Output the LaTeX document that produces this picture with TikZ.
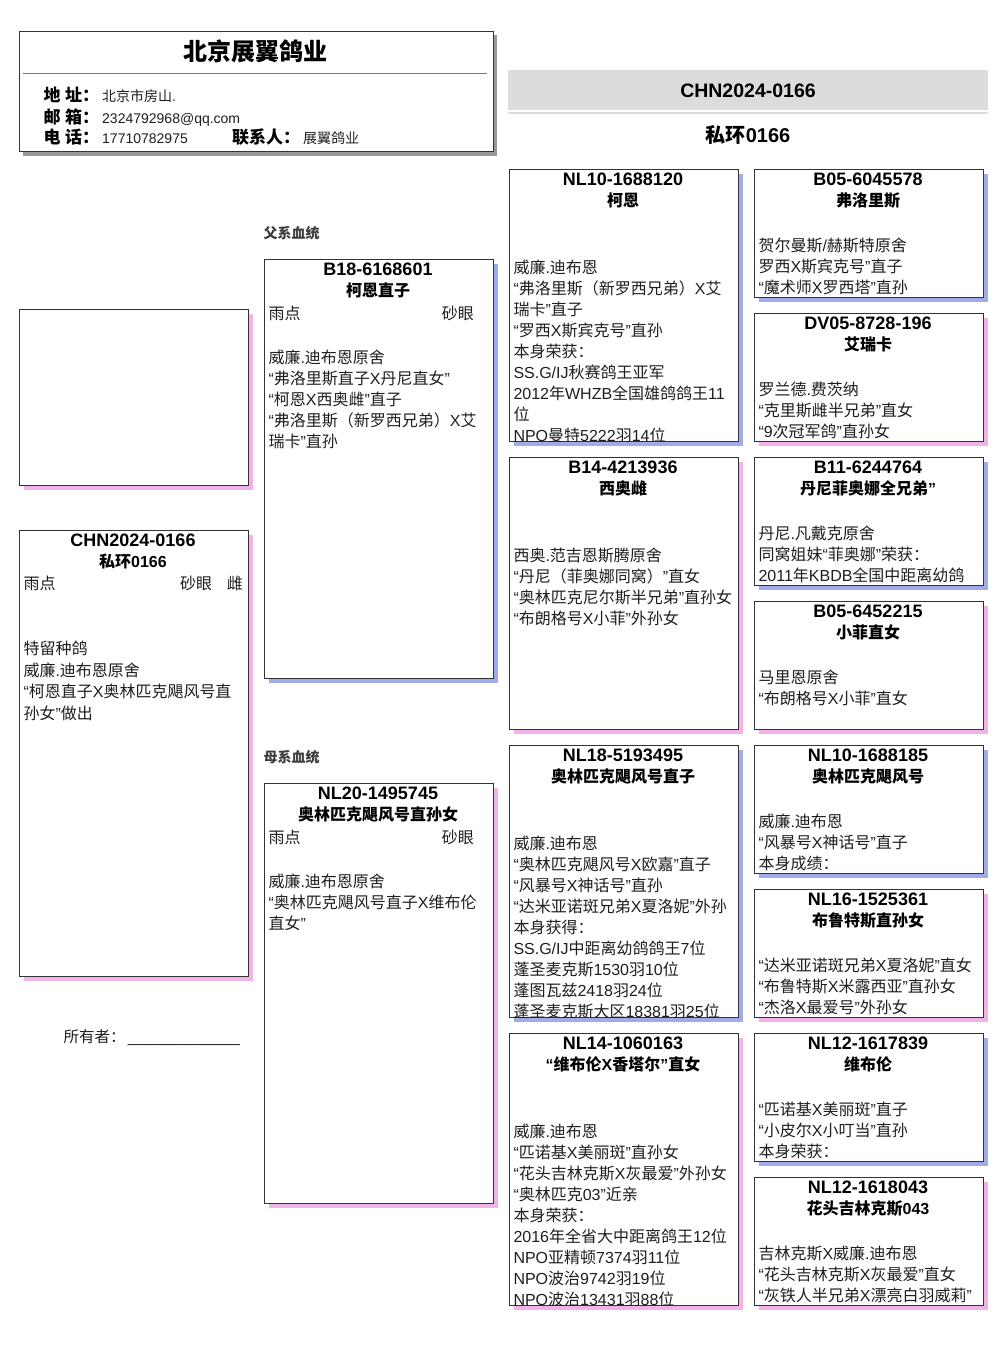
\documentclass[tikz,border=0pt]{standalone}
\usepackage{fontspec}
\setmainfont{Liberation Sans}
\newfontfamily\cjkfont{Noto Sans CJK SC}
\usetikzlibrary{shadows}
% automatic switch to the CJK font for Chinese characters
\newcount\cjkc
\newXeTeXintercharclass\cjkcls
\cjkc="3000 \loop\XeTeXcharclass\cjkc=\cjkcls \ifnum\cjkc<"303F \advance\cjkc by 1 \repeat
\cjkc="4E00 \loop\XeTeXcharclass\cjkc=\cjkcls \ifnum\cjkc<"9FFF \advance\cjkc by 1 \repeat
\cjkc="FF00 \loop\XeTeXcharclass\cjkc=\cjkcls \ifnum\cjkc<"FFEF \advance\cjkc by 1 \repeat
\XeTeXcharclass"201C=0 \XeTeXcharclass"201D=0 \XeTeXcharclass"2018=0 \XeTeXcharclass"2019=0
\XeTeXinterchartoks 0 \cjkcls = {\begingroup\cjkfont}
\XeTeXinterchartoks 4095 \cjkcls = {\begingroup\cjkfont}
\XeTeXinterchartoks \cjkcls 0 = {\endgroup}
\XeTeXinterchartoks \cjkcls 4095 = {\endgroup}
\XeTeXinterchartokenstate=1

\definecolor{boxline}{HTML}{333333}
\definecolor{maleshd}{RGB}{160,172,234}
\definecolor{femshd}{RGB}{240,178,232}
\definecolor{hdrshd}{HTML}{999999}
\definecolor{hdrline}{HTML}{777777}
\definecolor{bandgray}{HTML}{DCDCDC}
\definecolor{txt}{HTML}{1E1E1E}
\definecolor{seclbl}{HTML}{3C3C3C}
\newcommand\fst{\leavevmode\vrule height 15pt depth 0pt width 0pt\relax}

\tikzset{
  pbox/.style={rectangle, draw=boxline, fill=white, line width=1pt, inner sep=0pt, anchor=north west},
  maleshadow/.style={drop shadow={shadow xshift=4.5pt, shadow yshift=-4.5pt, fill=maleshd, opacity=1}},
  femshadow/.style={drop shadow={shadow xshift=4.5pt, shadow yshift=-4.5pt, fill=femshd, opacity=1}},
  idtxt/.style={anchor=base, inner sep=0pt, font=\bfseries\fontsize{18}{21}\selectfont},
  nametxt/.style={anchor=base, inner sep=0pt, font=\bfseries\fontsize{16}{21}\selectfont},
  body/.style={anchor=north west, inner sep=0pt, text width=262pt, align=left, text=txt,
    font=\fontsize{16}{21}\selectfont, execute at begin node=\fst},
  subjbody/.style={body, font=\fontsize{16}{21.7}\selectfont},
  word/.style={anchor=base west, inner sep=0pt, text=txt, font=\fontsize{16}{21}\selectfont},
  hlbl/.style={anchor=base west, inner sep=0pt, font=\bfseries\fontsize{17}{20}\selectfont},
  hval/.style={anchor=base west, inner sep=0pt, text=txt, font=\fontsize{14}{17}\selectfont},
  seclabel/.style={anchor=base west, inner sep=0pt, text=seclbl, font=\bfseries\fontsize{14}{16}\selectfont},
}

% #1 name, #2 left, #3 top, #4 width, #5 height, #6 shadow style, #7 ring, #8 pigeon name
\newcommand\pgbox[8]{%
  \node[pbox,#6,minimum width=#4pt,minimum height=#5pt] (#1) at (#2,#3) {};
  \node[idtxt] (#1-id) at ({#2+#4/2},{#3+16.8}) {#7};
  \node[nametxt] (#1-nm) at ({#2+#4/2},{#3+37.7}) {#8};
}

\begin{document}
\begin{tikzpicture}[x=1pt,y=-1pt]
\useasboundingbox[fill=white] (0,0) rectangle (1006,1366);

% ---------- header ----------
\node[pbox, drop shadow={shadow xshift=4pt, shadow yshift=-4pt, fill=hdrshd, opacity=1},
      minimum width=474pt, minimum height=120.5pt] (hdr) at (18.5,30.5) {};
\node[anchor=base, inner sep=0pt, font=\bfseries\fontsize{24}{28}\selectfont] (hdrtitle) at (255.5,60) {北京展翼鸽业};
\coordinate (hl1) at (23,73.5);
\coordinate (hl2) at (487,73.5);
\draw[hdrline, line width=1pt] (hl1) -- (hl2);
\node[hlbl] (laddr) at (43.3,101.3) {地 址：};
\node[hval] (vaddr) at (102,101.3) {北京市房山.};
\node[hlbl] (lmail) at (43.3,123.6) {邮 箱：};
\node[hval] (vmail) at (102,123.6) {2324792968@qq.com};
\node[hlbl] (ltel) at (43.3,143.8) {电 话：};
\node[hval] (vtel) at (102,143.8) {17710782975};
\node[hlbl] (lcontact) at (232,143.8) {联系人：};
\node[hval] (vcontact) at (303,143.8) {展翼鸽业};

% ---------- ring band ----------
\node[rectangle, fill=bandgray, inner sep=0pt, anchor=north west, minimum width=480pt, minimum height=39.5pt] (band) at (508,70) {};
\node[anchor=base, inner sep=0pt, font=\bfseries\fontsize{19.5}{22}\selectfont] (ring) at (748,97.2) {CHN2024-0166};
\coordinate (bl1) at (508,112.5);
\coordinate (bl2) at (988,112.5);
\draw[bandgray, line width=2pt] (bl1) -- (bl2);
\node[anchor=base, inner sep=0pt, font=\bfseries\fontsize{20}{24}\selectfont] (ringname) at (748,142) {私环0166};

% ---------- photo and subject ----------
\node[pbox, femshadow, minimum width=229pt, minimum height=176pt] (photo) at (18.5,308.5) {};

\node[pbox, femshadow, minimum width=229pt, minimum height=446.5pt] (subj) at (18.5,529.5) {};
\node[idtxt] (subj-id) at (133,546.7) {CHN2024-0166};
\node[nametxt] (subj-nm) at (133,567.7) {私环0166};
\node[word] (subj-c1) at (23.3,589.3) {雨点};
\node[word] (subj-c2) at (180,589.3) {砂眼};
\node[word] (subj-c3) at (226.7,589.3) {雌};
\node[subjbody] (subj-b) at (23.3,639.3) {特留种鸽\\威廉.迪布恩原舍\\“柯恩直子X奥林匹克飓风号直\\孙女”做出};

\node[anchor=base west, inner sep=0pt, text=txt, font=\fontsize{15.5}{18}\selectfont] (owner) at (63.3,1042.7) {所有者：\kern2.4pt\_\_\_\_\_\_\_\_\_\_\_\_\_};

% ---------- parents ----------
\node[seclabel] (patlbl) at (263.3,238.5) {父系血统};
\pgbox{fat}{263.5}{258.5}{229}{419.5}{maleshadow}{B18-6168601}{柯恩直子}
\node[word] (fat-c1) at (268.3,319.2) {雨点};
\node[word] (fat-c2) at (441.7,319.2) {砂眼};
\node[body] (fat-b) at (268.3,347.8) {威廉.迪布恩原舍\\“弗洛里斯直子X丹尼直女”\\“柯恩X西奥雌”直子\\“弗洛里斯（新罗西兄弟）X艾\\瑞卡”直孙};

\node[seclabel] (matlbl) at (263.3,762.4) {母系血统};
\pgbox{mot}{263.5}{782.5}{229}{420}{femshadow}{NL20-1495745}{奥林匹克飓风号直孙女}
\node[word] (mot-c1) at (268.3,843.2) {雨点};
\node[word] (mot-c2) at (441.7,843.2) {砂眼};
\node[body] (mot-b) at (268.3,871.8) {威廉.迪布恩原舍\\“奥林匹克飓风号直子X维布伦\\直女”};

% ---------- grandparents ----------
\pgbox{n21}{508.5}{168.5}{229}{272.5}{maleshadow}{NL10-1688120}{柯恩}
\begin{scope}
\clip ([yshift=0.5pt]n21.north west) rectangle ([yshift=0.5pt]n21.south east);
\node[body] (n21-b) at (513.3,258) {威廉.迪布恩\\“弗洛里斯（新罗西兄弟）X艾\\瑞卡”直子\\“罗西X斯宾克号”直孙\\本身荣获：\\SS.G/IJ秋赛鸽王亚军\\2012年WHZB全国雄鸽鸽王11\\位\\NPO曼特5222羽14位};
\end{scope}

\pgbox{n22}{508.5}{456.5}{229}{272.5}{femshadow}{B14-4213936}{西奥雌}
\node[body] (n22-b) at (513.3,546) {西奥.范吉恩斯腾原舍\\“丹尼（菲奥娜同窝）”直女\\“奥林匹克尼尔斯半兄弟”直孙女\\“布朗格号X小菲”外孙女};

\pgbox{n23}{508.5}{744.5}{229}{272.5}{maleshadow}{NL18-5193495}{奥林匹克飓风号直子}
\begin{scope}
\clip ([yshift=0.5pt]n23.north west) rectangle ([yshift=0.5pt]n23.south east);
\node[body] (n23-b) at (513.3,834) {威廉.迪布恩\\“奥林匹克飓风号X欧嘉”直子\\“风暴号X神话号”直孙\\“达米亚诺斑兄弟X夏洛妮”外孙\\本身获得：\\SS.G/IJ中距离幼鸽鸽王7位\\蓬圣麦克斯1530羽10位\\蓬图瓦兹2418羽24位\\蓬圣麦克斯大区18381羽25位};
\end{scope}

\pgbox{n24}{508.5}{1032.5}{229}{272.5}{femshadow}{NL14-1060163}{“维布伦X香塔尔”直女}
\begin{scope}
\clip ([yshift=0.5pt]n24.north west) rectangle ([yshift=0.5pt]n24.south east);
\node[body] (n24-b) at (513.3,1122) {威廉.迪布恩\\“匹诺基X美丽斑”直孙女\\“花头吉林克斯X灰最爱”外孙女\\“奥林匹克03”近亲\\本身荣获：\\2016年全省大中距离鸽王12位\\NPO亚精顿7374羽11位\\NPO波治9742羽19位\\NPO波治13431羽88位};
\end{scope}

% ---------- great-grandparents ----------
\pgbox{n31}{753.5}{168.5}{229}{128.5}{maleshadow}{B05-6045578}{弗洛里斯}
\node[body] (n31-b) at (758.3,236) {贺尔曼斯/赫斯特原舍\\罗西X斯宾克号”直子\\“魔术师X罗西塔”直孙};

\pgbox{n32}{753.5}{312.5}{229}{128.5}{femshadow}{DV05-8728-196}{艾瑞卡}
\node[body] (n32-b) at (758.3,380) {罗兰德.费茨纳\\“克里斯雌半兄弟”直女\\“9次冠军鸽”直孙女};

\pgbox{n33}{753.5}{456.5}{229}{128.5}{maleshadow}{B11-6244764}{丹尼菲奥娜全兄弟”}
\node[body] (n33-b) at (758.3,524) {丹尼.凡戴克原舍\\同窝姐妹“菲奥娜”荣获：\\2011年KBDB全国中距离幼鸽};

\pgbox{n34}{753.5}{600.5}{229}{128.5}{femshadow}{B05-6452215}{小菲直女}
\node[body] (n34-b) at (758.3,668) {马里恩原舍\\“布朗格号X小菲”直女};

\pgbox{n35}{753.5}{744.5}{229}{128.5}{maleshadow}{NL10-1688185}{奥林匹克飓风号}
\node[body] (n35-b) at (758.3,812) {威廉.迪布恩\\“风暴号X神话号”直子\\本身成绩：};

\pgbox{n36}{753.5}{888.5}{229}{128.5}{femshadow}{NL16-1525361}{布鲁特斯直孙女}
\node[body] (n36-b) at (758.3,956) {“达米亚诺斑兄弟X夏洛妮”直女\\“布鲁特斯X米露西亚”直孙女\\“杰洛X最爱号”外孙女};

\pgbox{n37}{753.5}{1032.5}{229}{128.5}{maleshadow}{NL12-1617839}{维布伦}
\node[body] (n37-b) at (758.3,1100) {“匹诺基X美丽斑”直子\\“小皮尔X小叮当”直孙\\本身荣获：};

\pgbox{n38}{753.5}{1176.5}{229}{128.5}{femshadow}{NL12-1618043}{花头吉林克斯043}
\node[body] (n38-b) at (758.3,1244) {吉林克斯X威廉.迪布恩\\“花头吉林克斯X灰最爱”直女\\“灰铁人半兄弟X漂亮白羽威莉”};

\end{tikzpicture}
\end{document}
